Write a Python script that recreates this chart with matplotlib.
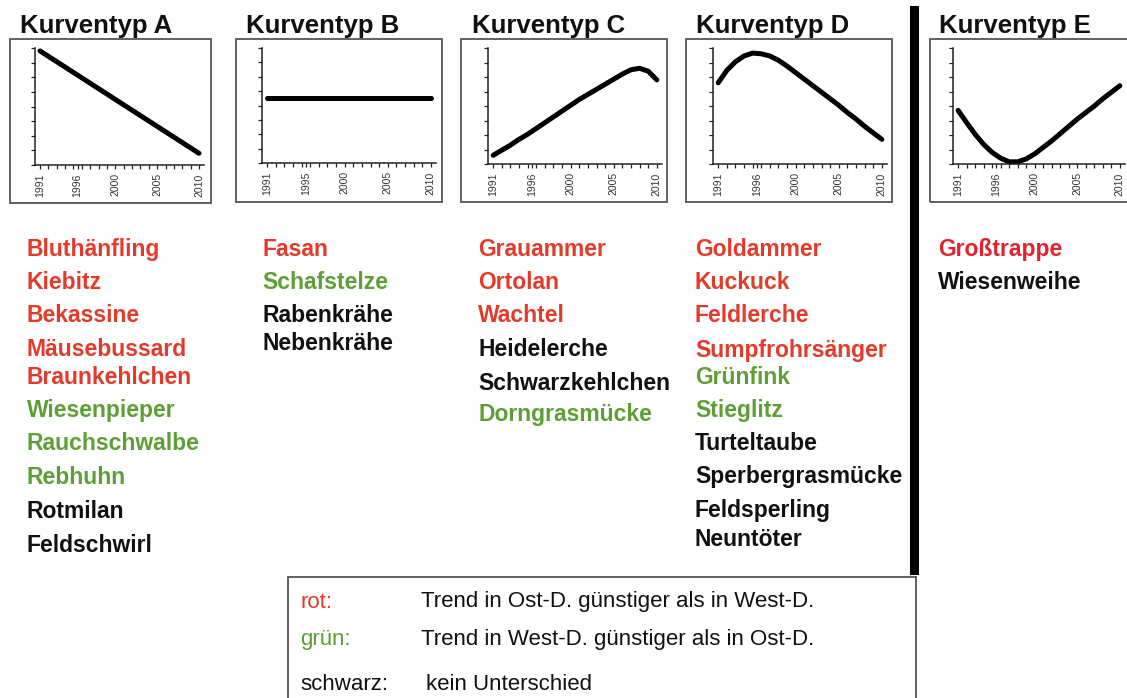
import matplotlib
matplotlib.use("Agg")
import matplotlib.pyplot as plt
from matplotlib.patches import Rectangle
from matplotlib.lines import Line2D

W, H = 1127, 698
RED = "#e23b2b"
GREEN = "#5f9e35"
BLACK = "#111111"

# Kurvenverläufe (Index 0-8), Jahre 1991-2010
years = list(range(1991, 2011))
jahre_ab = [1991, 2010]
kurve_a = [7.8, 0.8]
kurve_b = [4.5, 4.5]
kurve_c = [0.6, 0.95, 1.3, 1.7, 2.05, 2.45, 2.85, 3.25, 3.65, 4.05,
           4.45, 4.8, 5.15, 5.5, 5.85, 6.2, 6.5, 6.6, 6.4, 5.8]
kurve_d = [5.6, 6.45, 7.05, 7.45, 7.65, 7.6, 7.45, 7.15, 6.75, 6.3,
           5.85, 5.4, 4.95, 4.5, 4.05, 3.55, 3.1, 2.6, 2.15, 1.7]
kurve_e = [3.7, 2.85, 2.05, 1.35, 0.8, 0.4, 0.15, 0.15, 0.35, 0.7,
           1.15, 1.6, 2.1, 2.6, 3.1, 3.55, 4.0, 4.5, 4.95, 5.4]

titel = ["Kurventyp A", "Kurventyp B", "Kurventyp C", "Kurventyp D", "Kurventyp E"]
jahr_labels = [["1991", "1996", "2000", "2005", "2010"],
               ["1991", "1995", "2000", "2005", "2010"],
               ["1991", "1996", "2000", "2005", "2010"],
               ["1991", "1996", "2000", "2005", "2010"],
               ["1991", "1996", "2000", "2005", "2010"]]

# Artenlisten: (Name, Farbe, Zeile y in px)
arten_a = [("Bluthänfling", RED, 249), ("Kiebitz", RED, 282), ("Bekassine", RED, 316),
           ("Mäusebussard", RED, 350), ("Braunkehlchen", RED, 378),
           ("Wiesenpieper", GREEN, 410), ("Rauchschwalbe", GREEN, 444),
           ("Rebhuhn", GREEN, 477), ("Rotmilan", BLACK, 511), ("Feldschwirl", BLACK, 545)]
arten_b = [("Fasan", RED, 249), ("Schafstelze", GREEN, 282),
           ("Rabenkrähe", BLACK, 316), ("Nebenkrähe", BLACK, 343)]
arten_c = [("Grauammer", RED, 249), ("Ortolan", RED, 282), ("Wachtel", RED, 316),
           ("Heidelerche", BLACK, 350), ("Schwarzkehlchen", BLACK, 383),
           ("Dorngrasmücke", GREEN, 415)]
arten_d = [("Goldammer", RED, 249), ("Kuckuck", RED, 282), ("Feldlerche", RED, 316),
           ("Sumpfrohrsänger", RED, 350), ("Grünfink", GREEN, 377),
           ("Stieglitz", GREEN, 410), ("Turteltaube", BLACK, 444),
           ("Sperbergrasmücke", BLACK, 477), ("Feldsperling", BLACK, 511),
           ("Neuntöter", BLACK, 539)]
arten_e = [("Großtrappe", "#e2222e", 249), ("Wiesenweihe", BLACK, 282)]

legende = [("rot:", RED, "Trend in Ost-D. günstiger als in West-D.", 602, 421),
           ("grün:", GREEN, "Trend in West-D. günstiger als in Ost-D.", 640, 421),
           ("schwarz:", BLACK, "kein Unterschied", 685, 426)]

plt.rcParams['font.family'] = ['Liberation Sans', 'DejaVu Sans']

fig = plt.figure(figsize=(W / 100, H / 100), dpi=100)
fig.patch.set_facecolor("white")


def fx(x):
    return x / W


def fy(y):
    return 1 - y / H


def rahmen(x0, y0, x1, y1, col="#555555", lw=1.3):
    fig.patches.append(Rectangle((fx(x0), fy(y1)), (x1 - x0) / W, (y1 - y0) / H,
                                 transform=fig.transFigure, fill=False,
                                 edgecolor=col, linewidth=lw))


# Panelrahmen, Achsen und Titel
boxes = [(10, 39, 211, 203), (236, 39, 442, 202), (461, 39, 667, 202),
         (686, 39, 892, 202), (930, 39, 1145, 202)]
achsen = [(35, 48, 204, 165), (262, 48, 436, 163), (488, 48, 662, 164),
          (713, 48, 887, 164), (953, 48, 1125, 164)]
titel_x = [20, 246, 472, 696, 939]
kurven = [(jahre_ab, kurve_a), (jahre_ab, kurve_b), (years, kurve_c),
          (years, kurve_d), (years, kurve_e)]

for i in range(5):
    rahmen(*boxes[i])
    fig.text(fx(titel_x[i]), fy(33), titel[i], fontsize=18.5, fontweight="bold",
             va="baseline", ha="left", color="#111111")
    l, t, r, b = achsen[i]
    ax = fig.add_axes([fx(l), fy(b), (r - l) / W, (b - t) / H])
    xs, ys = kurven[i]
    ax.plot(xs, ys, color="black", linewidth=3.6, solid_capstyle="round",
            solid_joinstyle="round", clip_on=False)
    ax.set_xlim(1990.4, 2010.6)
    ax.set_ylim(0, 8)
    for s in ["top", "right"]:
        ax.spines[s].set_visible(False)
    for s in ["left", "bottom"]:
        ax.spines[s].set_linewidth(1.1)
        ax.spines[s].set_color("#222222")
    ax.set_yticks(range(0, 9))
    ax.set_yticklabels([])
    ax.set_xticks([1991, 1995.5, 2000, 2005, 2010])
    ax.set_xticklabels(jahr_labels[i], rotation=90, fontsize=7.5, color="#333333")
    ax.set_xticks(years, minor=True)
    ax.tick_params(axis="both", which="both", direction="out", length=3,
                   width=0.9, color="#222222", pad=3)
    ax.patch.set_alpha(0)

# Trennlinie vor Kurventyp E
fig.add_artist(Line2D([fx(914), fx(914)], [fy(10), fy(570)], color="black",
                      linewidth=6.5, transform=fig.transFigure))

# Artnamen
spalten = [(27, arten_a), (262, arten_b), (478, arten_c), (695, arten_d), (938, arten_e)]
for x, arten in spalten:
    for name, farbe, y in arten:
        fig.text(fx(x), fy(y), name, color=farbe, fontsize=16.5, fontweight="bold",
                 ha="left", va="center")

# Legende
rahmen(288, 577, 916, 720, col="#444444", lw=1.2)
for key, farbe, text, y, tx in legende:
    fig.text(fx(300), fy(y), key, color=farbe, fontsize=16, ha="left", va="center")
    fig.text(fx(tx), fy(y), text, color="#111111", fontsize=16, ha="left", va="center")

fig.savefig("out.png", dpi=100)
